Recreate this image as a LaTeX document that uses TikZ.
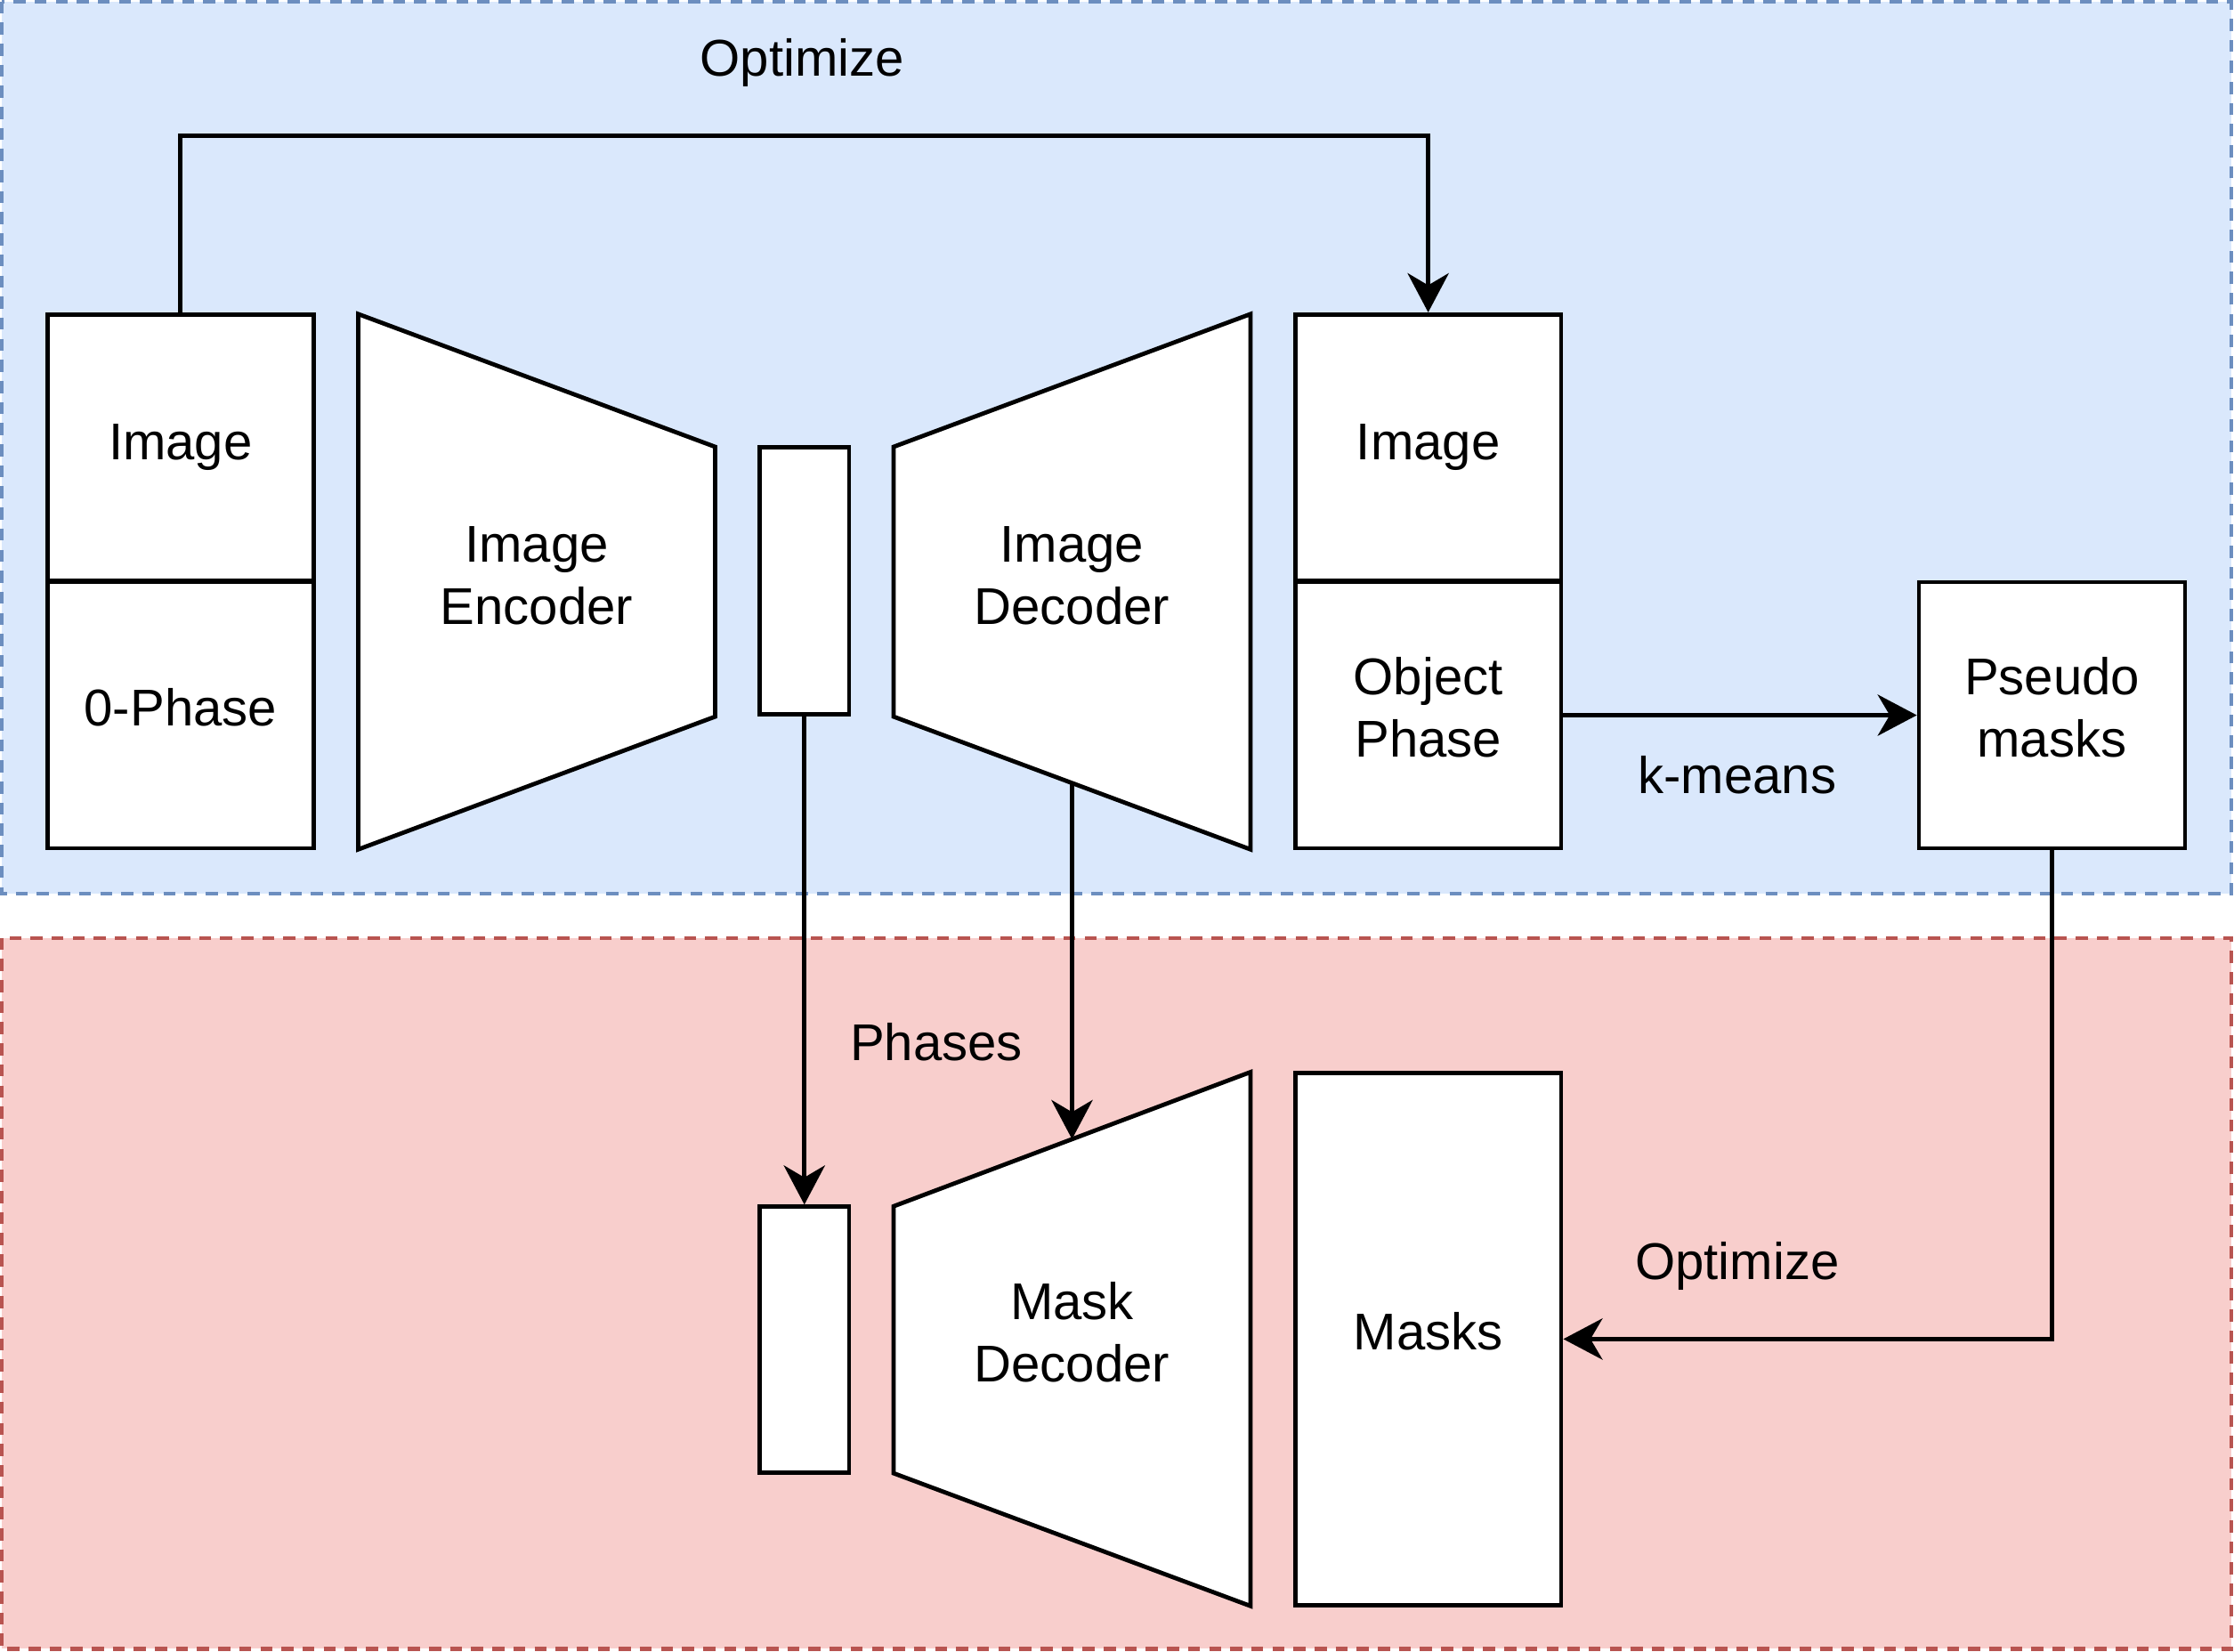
\documentclass[tikz,border=0pt]{standalone}
\usepackage{fontspec}
\setmainfont{Liberation Sans}
\usetikzlibrary{arrows.meta}
\usetikzlibrary{positioning}

\definecolor{blueFill}{HTML}{DAE8FC}
\definecolor{blueLine}{HTML}{6C8EBF}
\definecolor{redFill}{HTML}{F8CECC}
\definecolor{redLine}{HTML}{B85450}

\begin{document}
\begin{tikzpicture}
	[x=0.01cm,y=-0.01cm,
	 every node/.style={font=\fontsize{10.3}{12.4}\selectfont,align=center,inner sep=0pt},
	 every label/.style={font=\fontsize{10.3}{12.4}\selectfont,align=center,inner sep=0pt,yshift=1.5pt},
	 block/.style={draw,fill=white,line width=0.85pt,minimum width=53pt,minimum height=53pt},
	 thin block/.style={block,minimum width=17.8pt},
	 tall block/.style={block,minimum height=106pt},
	 trap/.style={draw,fill=white,line width=0.85pt},
	 region/.style={line width=0.75pt,dash pattern=on 2.4pt off 1.8pt},
	 arr/.style={line width=0.85pt,-{Stealth[length=7.8pt,width=8.2pt,inset=2.4pt]}}]
	\useasboundingbox (0,0) rectangle (1565,1157);

	% the two stages
	\draw[region,draw=blueLine,fill=blueFill] (1,1) rectangle (1563,626);
	\draw[region,draw=redLine,fill=redFill] (1,657) rectangle (1563,1155);

	% upper stage
	\node[block] (img1) at (126.5,313.5) {Image};
	\node[block,label=center:0-Phase] (zph) at (126.5,501) {};
	\draw[trap] (251,220) -- (501,313) -- (501,502) -- (251,595) -- cycle;
	\node (enc) at (376,403) {Image\\Encoder};
	\node[thin block,minimum height=53.2pt] (lat1) at (563.5,407) {};
	\draw[trap] (626,313) -- (876,220) -- (876,595) -- (626,502) -- cycle;
	\node (dec) at (751,403) {Image\\Decoder};
	\node[block] (img2) at (1000.5,313.5) {Image};
	\node[block,label={center:Object\\Phase}] (obj) at (1000.5,501) {};
	\node[block,label={center:Pseudo\\masks}] (pseudo) at (1437.5,501) {};
	\coordinate (decout) at (751,548.5);

	% lower stage
	\node[thin block] (lat2) at (563.5,938.5) {};
	\draw[trap] (626,845) -- (876,751) -- (876,1125) -- (626,1032) -- cycle;
	\node (mdec) at (751,933) {Mask\\Decoder};
	\node[tall block,label=center:Masks] (masks) at (1000.5,938) {};
	\coordinate (mdin) at (751,798);

	% labels
	\node (opt1) at (562,44) {Optimize};
	\node (km) at (1217,543) {k-means};
	\node (ph) at (656,730) {Phases};
	\node (opt2) at (1217,887) {Optimize};

	% connectors
	\draw[arr] (img1.north) -- (126.5,95) -| (img2.north);
	\draw[arr] (obj.east) -- (pseudo.west);
	\draw[arr] (lat1.south) -- (lat2.north);
	\draw[arr] (decout) -- (mdin);
	\draw[arr] (pseudo.south) |- (masks.east);
\end{tikzpicture}
\end{document}
